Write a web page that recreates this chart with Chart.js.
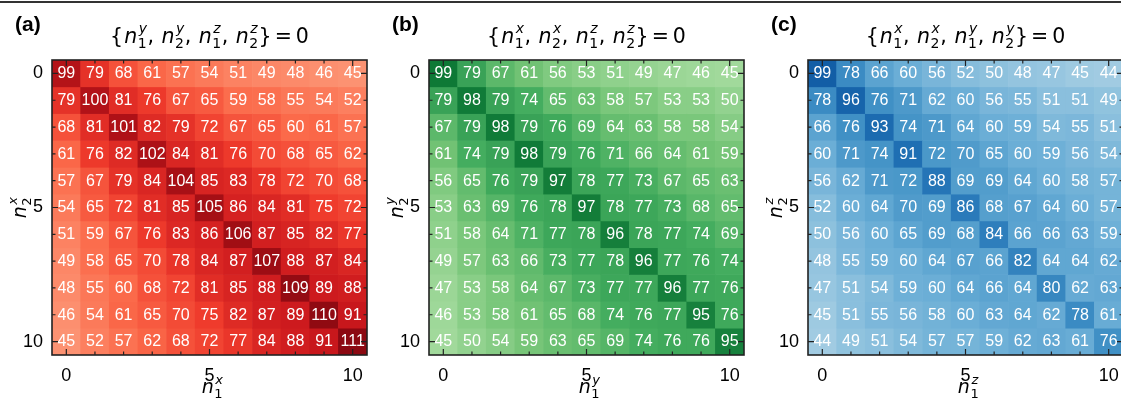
<!DOCTYPE html>
<html lang="en">
<head>
<meta charset="UTF-8">
<title>Overlap matrices</title>
<script src="https://cdn.jsdelivr.net/npm/chart.js"></script>
<style>
    body {
        margin: 0;
        width: 1121px;
        height: 402px;
        overflow: hidden;
        background: #fff;
        position: relative;
    }
    .topline {
        position: absolute;
        left: 0; top: 1px;
        width: 1121px; height: 1.5px;
        background: #333;
    }
    .panel {
        position: absolute;
        top: 0;
        width: 378px;
        height: 402px;
    }
</style>
</head>
<body>
<div class="topline"></div>
<div class="panel" style="left:0px"><canvas id="chartA" width="378" height="402"></canvas></div>
<div class="panel" style="left:377px"><canvas id="chartB" width="378" height="402"></canvas></div>
<div class="panel" style="left:756px"><canvas id="chartC" width="378" height="402"></canvas></div>

<script>
// n values along both axes
const nLabels = ['0', '1', '2', '3', '4', '5', '6', '7', '8', '9', '10'];
const tickLabels = ['0', '5', '10'];

// rows = n2, columns = n1
const matA = [
    [99, 79, 68, 61, 57, 54, 51, 49, 48, 46, 45],
    [79, 100, 81, 76, 67, 65, 59, 58, 55, 54, 52],
    [68, 81, 101, 82, 79, 72, 67, 65, 60, 61, 57],
    [61, 76, 82, 102, 84, 81, 76, 70, 68, 65, 62],
    [57, 67, 79, 84, 104, 85, 83, 78, 72, 70, 68],
    [54, 65, 72, 81, 85, 105, 86, 84, 81, 75, 72],
    [51, 59, 67, 76, 83, 86, 106, 87, 85, 82, 77],
    [49, 58, 65, 70, 78, 84, 87, 107, 88, 87, 84],
    [48, 55, 60, 68, 72, 81, 85, 88, 109, 89, 88],
    [46, 54, 61, 65, 70, 75, 82, 87, 89, 110, 91],
    [45, 52, 57, 62, 68, 72, 77, 84, 88, 91, 111]
];
const matB = [
    [99, 79, 67, 61, 56, 53, 51, 49, 47, 46, 45],
    [79, 98, 79, 74, 65, 63, 58, 57, 53, 53, 50],
    [67, 79, 98, 79, 76, 69, 64, 63, 58, 58, 54],
    [61, 74, 79, 98, 79, 76, 71, 66, 64, 61, 59],
    [56, 65, 76, 79, 97, 78, 77, 73, 67, 65, 63],
    [53, 63, 69, 76, 78, 97, 78, 77, 73, 68, 65],
    [51, 58, 64, 71, 77, 78, 96, 78, 77, 74, 69],
    [49, 57, 63, 66, 73, 77, 78, 96, 77, 76, 74],
    [47, 53, 58, 64, 67, 73, 77, 77, 96, 77, 76],
    [46, 53, 58, 61, 65, 68, 74, 76, 77, 95, 76],
    [45, 50, 54, 59, 63, 65, 69, 74, 76, 76, 95]
];
const matC = [
    [99, 78, 66, 60, 56, 52, 50, 48, 47, 45, 44],
    [78, 96, 76, 71, 62, 60, 56, 55, 51, 51, 49],
    [66, 76, 93, 74, 71, 64, 60, 59, 54, 55, 51],
    [60, 71, 74, 91, 72, 70, 65, 60, 59, 56, 54],
    [56, 62, 71, 72, 88, 69, 69, 64, 60, 58, 57],
    [52, 60, 64, 70, 69, 86, 68, 67, 64, 60, 57],
    [50, 56, 60, 65, 69, 68, 84, 66, 66, 63, 59],
    [48, 55, 59, 60, 64, 67, 66, 82, 64, 64, 62],
    [47, 51, 54, 59, 60, 64, 66, 64, 80, 62, 63],
    [45, 51, 55, 56, 58, 60, 63, 64, 62, 78, 61],
    [44, 49, 51, 54, 57, 57, 59, 62, 63, 61, 76]
];

// matplotlib Reds / Greens / Blues (colorbrewer nodes)
const reds = ['#fff5f0', '#fee0d2', '#fcbba1', '#fc9272', '#fb6a4a', '#ef3b2c', '#cb181d', '#a50f15', '#67000d'];
const greens = ['#f7fcf5', '#e5f5e0', '#c7e9c0', '#a1d99b', '#74c476', '#41ab5d', '#238b45', '#006d2c', '#00441b'];
const blues = ['#f7fbff', '#deebf7', '#c6dbef', '#9ecae1', '#6baed6', '#4292c6', '#2171b5', '#08519c', '#08306b'];
const vmax = 120;

function hexRgb(h) {
    return [parseInt(h.slice(1, 3), 16), parseInt(h.slice(3, 5), 16), parseInt(h.slice(5, 7), 16)];
}

function cmap(nodes, t) {
    t = Math.max(0, Math.min(1, t));
    const p = t * (nodes.length - 1);
    const i = Math.min(Math.floor(p), nodes.length - 2);
    const f = p - i;
    const a = hexRgb(nodes[i]), b = hexRgb(nodes[i + 1]);
    const c = a.map((v, k) => Math.round(v + (b[k] - v) * f));
    return 'rgb(' + c.join(',') + ')';
}

// draws italic n with sub/superscript, returns advance width
function mathN(ctx, x, base, sub, sup, size, draw) {
    const small = Math.round(size * 0.7);
    ctx.font = 'italic ' + size + 'px "DejaVu Sans"';
    const wn = ctx.measureText('n').width;
    if (draw) ctx.fillText('n', x, base);
    ctx.font = small + 'px "DejaVu Sans"';
    const ws = ctx.measureText(sub).width;
    if (draw) ctx.fillText(sub, x + wn + 0.5, base + size * 0.26);
    ctx.font = 'italic ' + small + 'px "DejaVu Sans"';
    const wp = ctx.measureText(sup).width;
    if (draw) ctx.fillText(sup, x + wn + 1.5, base - size * 0.47);
    return wn + Math.max(ws + 0.5, wp + 1.5) + 0.5;
}

function drawTitle(ctx, cx, base, terms, size) {
    const run = (draw) => {
        let x = draw ? draw : 0;
        ctx.font = size + 'px "DejaVu Sans"';
        if (draw) ctx.fillText('{', x, base);
        x += ctx.measureText('{').width + 1;
        terms.forEach((t, k) => {
            x += mathN(ctx, x, base, t[0], t[1], size, !!draw);
            ctx.font = size + 'px "DejaVu Sans"';
            if (k < terms.length - 1) {
                if (draw) ctx.fillText(',', x, base);
                x += ctx.measureText(', ').width + 1;
            } else {
                if (draw) ctx.fillText('}', x, base);
                x += ctx.measureText('}').width + 3;
                if (draw) ctx.fillText('=', x, base);
                x += ctx.measureText('=').width + 4;
                if (draw) ctx.fillText('0', x, base);
                x += ctx.measureText('0').width;
            }
        });
        return x - (draw ? draw : 0);
    };
    const w = run(0);
    run(cx - w / 2);
}

function makeChart(id, mat, nodes, letter, terms, axis) {
    const datasets = mat.map((row, r) => ({
        data: row.map(() => [r - 0.5, r + 0.5]),
        backgroundColor: row.map(v => cmap(nodes, v / vmax)),
        borderWidth: 0,
        grouped: false,
        barPercentage: 1,
        categoryPercentage: 1
    }));

    const decor = {
        id: 'decor',
        afterDatasetsDraw(chart) {
            const ctx = chart.ctx;
            const xs = chart.scales.x, ys = chart.scales.y;
            ctx.save();
            ctx.fillStyle = '#fff';
            ctx.font = '16px "Liberation Sans", Arial, sans-serif';
            ctx.textAlign = 'center';
            ctx.textBaseline = 'middle';
            mat.forEach((row, r) => {
                row.forEach((v, c) => {
                    ctx.fillText(String(v), xs.getPixelForValue(c), ys.getPixelForValue(r) + 0.5);
                });
            });
            ctx.restore();
        },
        afterDraw(chart) {
            const ctx = chart.ctx;
            const a = chart.chartArea;
            const xs = chart.scales.x, ys = chart.scales.y;
            ctx.save();
            ctx.strokeStyle = '#222';
            ctx.lineWidth = 1.2;
            ctx.beginPath();
            nLabels.forEach((lab, i) => {
                const len = i % 5 === 0 ? 6 : 3.5;
                const px = xs.getPixelForValue(i);
                const py = ys.getPixelForValue(i);
                ctx.moveTo(px, a.bottom); ctx.lineTo(px, a.bottom - len);
                ctx.moveTo(px, a.top); ctx.lineTo(px, a.top + len);
                ctx.moveTo(a.left, py); ctx.lineTo(a.left + len, py);
                ctx.moveTo(a.right, py); ctx.lineTo(a.right - len, py);
            });
            ctx.stroke();
            ctx.lineWidth = 1.6;
            ctx.strokeRect(a.left, a.top, a.right - a.left, a.bottom - a.top);

            ctx.fillStyle = '#000';
            ctx.textAlign = 'left';
            ctx.textBaseline = 'alphabetic';
            ctx.font = 'bold 21px "Liberation Sans", Arial, sans-serif';
            ctx.fillText(letter, 15, 31);

            const cx = (a.left + a.right) / 2;
            drawTitle(ctx, cx, 43, terms, 20.5);

            // x axis label
            const wx = mathN(ctx, 0, 0, '1', axis, 19, false);
            mathN(ctx, cx - wx / 2 + 3, 393, '1', axis, 19, true);

            // y axis label
            const cy = (a.top + a.bottom) / 2;
            ctx.translate(26, cy);
            ctx.rotate(-Math.PI / 2);
            const wy = mathN(ctx, 0, 0, '2', axis, 19, false);
            mathN(ctx, -wy / 2, 0, '2', axis, 19, true);
            ctx.restore();
        }
    };

    return new Chart(document.getElementById(id), {
        type: 'bar',
        data: { labels: nLabels, datasets: datasets },
        options: {
            responsive: false,
            animation: false,
            layout: { padding: { top: 60, right: 11, left: 0, bottom: 0 } },
            plugins: { legend: { display: false }, tooltip: { enabled: false } },
            scales: {
                x: {
                    type: 'category',
                    grid: { display: false, drawTicks: false },
                    border: { display: false },
                    afterFit(s) { s.height = 47; },
                    ticks: {
                        autoSkip: false,
                        maxRotation: 0,
                        padding: 10,
                        color: '#000',
                        font: { family: '"Liberation Sans", Arial, sans-serif', size: 18 },
                        callback: (val, idx) => tickLabels.includes(nLabels[idx]) ? nLabels[idx] : ''
                    }
                },
                y: {
                    type: 'linear',
                    min: -0.5,
                    max: 10.5,
                    reverse: true,
                    grid: { display: false, drawTicks: false },
                    border: { display: false },
                    afterFit(s) { s.width = 52; },
                    afterBuildTicks(s) { s.ticks = tickLabels.map(t => ({ value: Number(t) })); },
                    ticks: {
                        padding: 9,
                        color: '#000',
                        font: { family: '"Liberation Sans", Arial, sans-serif', size: 18 },
                        callback: v => String(v)
                    }
                }
            }
        },
        plugins: [decor]
    });
}

makeChart('chartA', matA, reds, '(a)', [['1', 'y'], ['2', 'y'], ['1', 'z'], ['2', 'z']], 'x');
makeChart('chartB', matB, greens, '(b)', [['1', 'x'], ['2', 'x'], ['1', 'z'], ['2', 'z']], 'y');
makeChart('chartC', matC, blues, '(c)', [['1', 'x'], ['2', 'x'], ['1', 'y'], ['2', 'y']], 'z');
</script>
</body>
</html>
